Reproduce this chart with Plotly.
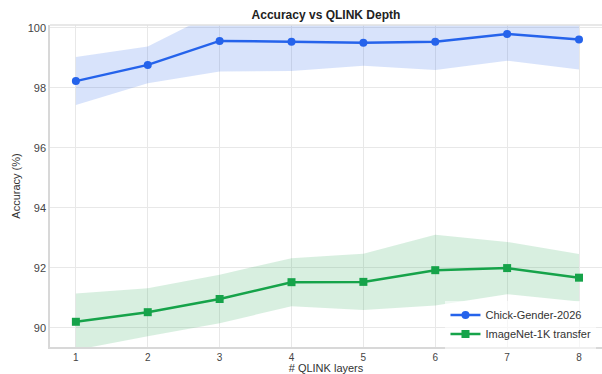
import plotly.graph_objects as go

layers = [1, 2, 3, 4, 5, 6, 7, 8]
chick_mean = [98.22, 98.76, 99.56, 99.53, 99.50, 99.53, 99.79, 99.61]
chick_std = [0.80, 0.61, 1.02, 0.97, 0.77, 0.94, 0.89, 1.00]
imnet_mean = [90.20, 90.52, 90.96, 91.52, 91.53, 91.92, 91.99, 91.67]
imnet_std = [0.94, 0.80, 0.81, 0.80, 0.94, 1.18, 0.87, 0.79]

blue = "#2563eb"
green = "#16a34a"

fig = go.Figure()

def band(x, m, s, fill):
    up = [a + b for a, b in zip(m, s)]
    lo = [a - b for a, b in zip(m, s)]
    fig.add_trace(go.Scatter(x=x, y=up, mode="lines", line=dict(width=0),
                             showlegend=False, hoverinfo="skip"))
    fig.add_trace(go.Scatter(x=x, y=lo, mode="lines", line=dict(width=0),
                             fill="tonexty", fillcolor=fill,
                             showlegend=False, hoverinfo="skip"))

band(layers, chick_mean, chick_std, "rgba(37,99,235,0.18)")
band(layers, imnet_mean, imnet_std, "rgba(22,163,74,0.17)")

fig.add_trace(go.Scatter(x=layers, y=chick_mean, mode="lines+markers",
                         name="Chick-Gender-2026",
                         line=dict(color=blue, width=2.5),
                         marker=dict(symbol="circle", size=8, color=blue)))
fig.add_trace(go.Scatter(x=layers, y=imnet_mean, mode="lines+markers",
                         name="ImageNet-1K transfer",
                         line=dict(color=green, width=2.5),
                         marker=dict(symbol="square", size=8, color=green)))

fig.update_layout(
    width=602, height=374,
    margin=dict(l=50, r=0, t=25, b=27),
    paper_bgcolor="white", plot_bgcolor="white",
    font=dict(family="Liberation Sans, Arial, sans-serif", color="#333333", size=11),
    title=dict(text="<b>Accuracy vs QLINK Depth</b>", x=0.5415, xanchor="center",
               y=0.96, yanchor="middle", font=dict(size=12, color="#222222")),
    showlegend=True,
    legend=dict(x=0.99, y=-0.005, xanchor="right", yanchor="bottom",
                traceorder="normal",
                bgcolor="rgba(255,255,255,0.6)", borderwidth=0,
                font=dict(size=11, color="#333333"),
                tracegroupgap=0, itemwidth=30),
)
fig.update_xaxes(range=[0.64, 8.32], tickvals=layers, ticktext=[str(v) for v in layers],
                 showgrid=True, gridcolor="#e8e8e8", gridwidth=1,
                 showline=True, linecolor="#d8d8d8", linewidth=1.5,
                 zeroline=False, ticks="", tickfont=dict(size=10, color="#444444"),
                 title=dict(text="# QLINK layers", font=dict(size=11, color="#333333"),
                            standoff=4))
fig.update_yaxes(range=[89.36, 100.09], tickvals=[90, 92, 94, 96, 98, 100],
                 showgrid=True, gridcolor="#e8e8e8", gridwidth=1,
                 showline=True, linecolor="#d8d8d8", linewidth=1.5, mirror=False,
                 zeroline=False, ticks="", tickfont=dict(size=11, color="#444444"),
                 title=dict(text="Accuracy (%)", font=dict(size=11, color="#333333"),
                            standoff=5))
fig.add_shape(type="line", xref="paper", yref="paper", x0=0, x1=1, y0=1, y1=1,
              line=dict(color="#e0e0e0", width=1.5))

fig.write_html("out.html")
